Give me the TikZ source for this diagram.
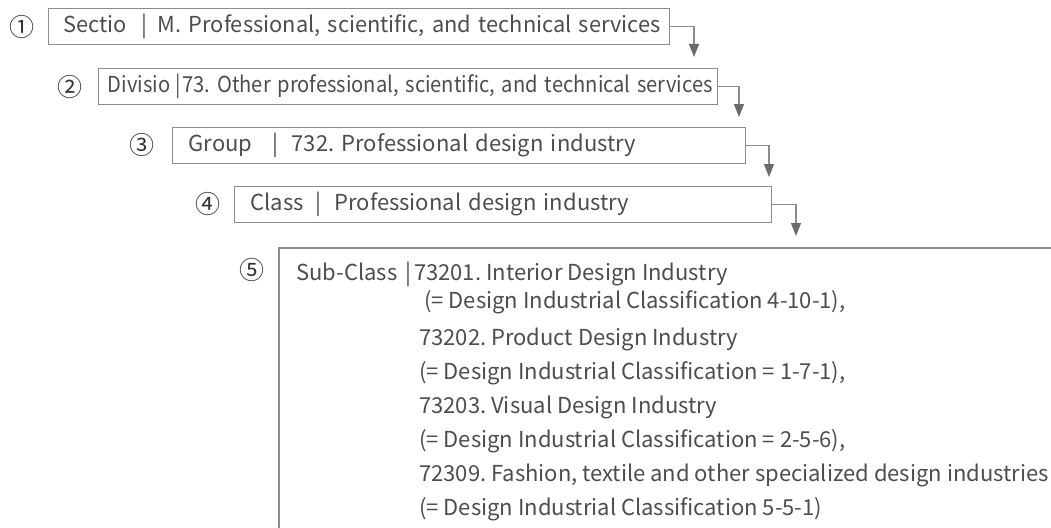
\documentclass[tikz,border=0pt]{standalone}
\usepackage{fontspec}
\usepackage{graphicx}
\setmainfont{Noto Sans CJK KR}
\usetikzlibrary{arrows.meta, positioning}
\definecolor{frameGray}{HTML}{8C8C8C}
\definecolor{tipGray}{HTML}{6B6B6B}
\definecolor{textGray}{HTML}{4D4D4D}
\frenchspacing

% level name in a box of fixed width, then the bar
\newcommand{\lvname}[2]{\makebox[#1][l]{#2}|}

\tikzset{
  levelbox/.style={draw=frameGray, line width=1.3pt, anchor=north west, minimum height=36pt,
    inner ysep=0pt, align=left, text=textGray, font=\fontsize{22}{26}\selectfont},
  number/.style={text=black!80, font=\fontsize{25}{25}\selectfont},
  link/.style={frameGray, line width=1.3pt, -{Triangle[length=13pt, width=10pt, color=tipGray]}},
  listtext/.style={text=textGray, font=\fontsize{22}{34}\selectfont, inner sep=0pt, align=left},
}

\begin{document}
\begin{tikzpicture}[x=1pt, y=-1pt]
    \useasboundingbox (0,0) rectangle (1051,527);

    % Levels of the classification
    \node[levelbox, text width=591pt, inner xsep=15pt] (section) at (48,8)
        {\resizebox{597pt}{\height}{\lvname{79pt}{Sectio}\hspace{10pt}M. Professional, scientific, and technical services}};
    \node[levelbox, text width=601pt, inner xsep=9pt] (division) at (98,68)
        {\resizebox{605pt}{\height}{\lvname{74pt}{Divisio}\hspace{2pt}73. Other professional, scientific, and technical services}};
    \node[levelbox, text width=541pt, inner xsep=16pt] (group) at (172,127)
        {\lvname{84pt}{Group}\hspace{13pt}732. Professional design industry};
    \node[levelbox, text width=505pt, inner xsep=16pt] (class) at (234,186)
        {\lvname{65pt}{Class}\hspace{13pt}Professional design industry};

    % Numbers
    \node[number] (n1) at (22,27) {①};
    \node[number] (n2) at (70,87) {②};
    \node[number] (n3) at (142,145) {③};
    \node[number] (n4) at (208,204) {④};
    \node[number] (n5) at (252,270) {⑤};

    % Arrows between levels
    \coordinate (tip1) at (694,57);
    \coordinate (tip2) at (739,117);
    \coordinate (tip3) at (769,177);
    \coordinate (tip4) at (796,236);
    \draw[link] (section.east) -| (tip1);
    \draw[link] (division.east) -| (tip2);
    \draw[link] (group.east) -| (tip3);
    \draw[link] (class.east) -| (tip4);

    % Sub-class frame, open to the right and below
    \coordinate (corner) at (279,248);
    \draw[frameGray, line width=1.3pt] (279,540) -- (corner) -- (1060,248);

    \node[listtext, anchor=base west] (subclass) at (296,280)
        {\lvname{109pt}{Sub-Class}\hspace{3pt}73201. Interior Design Industry};
    \node[listtext, anchor=north west] (codes) at (419,290)
        {\hspace*{5pt}(= Design Industrial Classification 4-10-1),\\[3pt]
         73202. Product Design Industry\\
         (= Design Industrial Classification = 1-7-1),\\
         73203. Visual Design Industry\\
         (= Design Industrial Classification = 2-5-6),\\
         72309. Fashion, textile and other specialized design industries\\
         (= Design Industrial Classification 5-5-1)};
\end{tikzpicture}
\end{document}
